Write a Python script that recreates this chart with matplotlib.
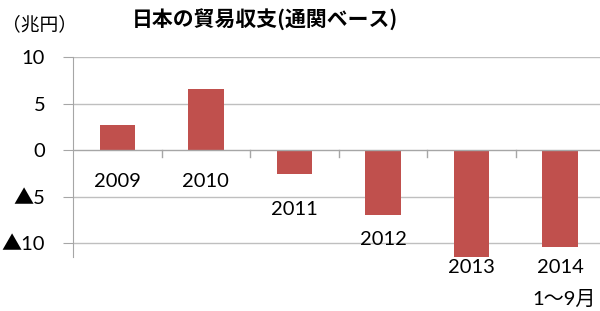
import matplotlib.pyplot as plt
import numpy as np

plt.rcParams['font.family'] = ['Lato', 'Noto Sans CJK JP', 'DejaVu Sans']

# trade balance, trillion yen
years = ['2009', '2010', '2011', '2012', '2013', '2014']
balance = [2.67, 6.60, -2.56, -6.94, -11.47, -10.45]
ytick_vals = [10, 5, 0, -5, -10]
ytick_labels = ['10', '5', '0', '▲5', '▲10']

# where the year labels sit (data y)
label_y = [-3.4, -3.4, -6.4, -9.6, -12.6, -12.6]

fig = plt.figure(figsize=(6.0, 3.11), dpi=100)
ax = fig.add_axes([73/600, 54/311, 527/600, 200/311])

x = np.arange(len(years))
ax.bar(x, balance, width=0.4, color='#C0504D', zorder=3)

ax.set_xlim(-0.5, 5.45)
ax.set_ylim(-11.5, 10)
ax.set_yticks(ytick_vals)
ax.set_yticklabels(ytick_labels, fontsize=14.5)
ax.tick_params(axis='y', length=7, color='#A6A6A6', pad=13)
ax.set_xticks([])

for v in ytick_vals:
    if v != 0:
        ax.axhline(v, color='#BFBFBF', lw=1, zorder=1)
ax.axhline(0, color='#A6A6A6', lw=1, zorder=4)
# category separators on the zero line
for b in np.arange(0.5, 5, 1):
    ax.plot([b, b], [0, -0.8], color='#A6A6A6', lw=1, zorder=4, clip_on=False)

for s in ['top', 'right', 'bottom']:
    ax.spines[s].set_visible(False)
ax.spines['left'].set_color('#A6A6A6')

for i, y in enumerate(label_y):
    ax.text(x[i], y, years[i], ha='center', va='center', fontsize=14.5, clip_on=False)
ax.text(5.05, -16.0, '1～9月', ha='center', va='center', fontsize=14.5, clip_on=False)

fig.text(265/600, 1 - 20/311, '日本の貿易収支(通関ベース)', ha='center', va='center',
         fontsize=15, fontweight='bold', family=['Noto Sans CJK JP'])
fig.text(2/600, 1 - 25/311, '（兆円）', ha='left', va='center', fontsize=13.5,
         family=['Noto Sans CJK JP'])

fig.savefig('out.png', dpi=100)
